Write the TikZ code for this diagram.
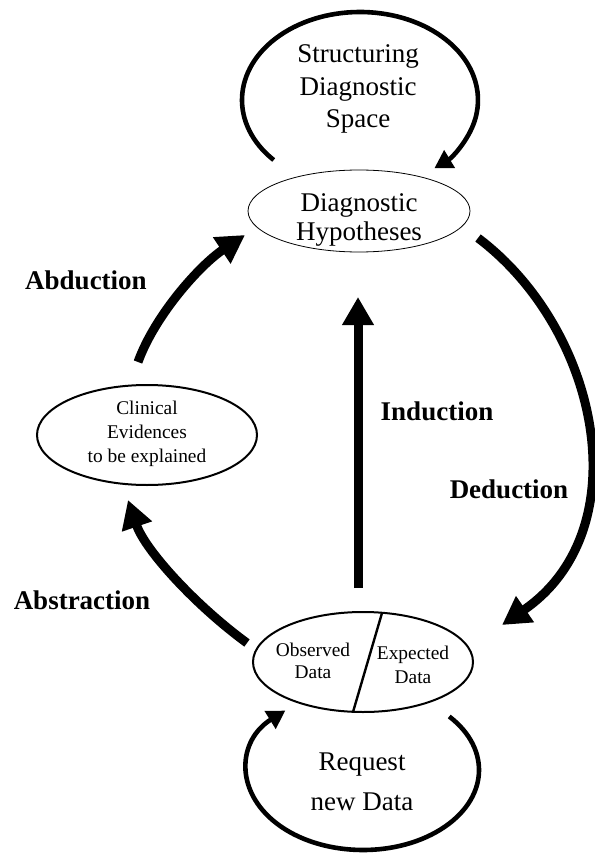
\documentclass[tikz,border=0pt]{standalone}
\usepackage{fontspec}
\setmainfont{Liberation Serif}
\usetikzlibrary{shapes.geometric,arrows.meta}
\begin{document}
\begin{tikzpicture}[x=0.5pt,y=0.5pt,
  bigtxt/.style={align=center, inner sep=0pt},
  lbl/.style={font=\fontsize{13.5}{16}\selectfont\bfseries, inner sep=0pt},
  smalltxt/.style={align=center, inner sep=0pt},
  ell/.style={ellipse, draw, line width=1pt, inner sep=0pt, minimum width=110pt, minimum height=50pt},
  bigarrow/.style={line width=4.5pt, -{Triangle[length=14pt,width=15pt]}},
  looparrow/.style={line width=2.3pt, -{Triangle[length=9pt,width=10pt]}}]
\useasboundingbox (0,0) rectangle (594,-855);

% nodes
\node[ellipse, draw, line width=0.4pt, inner sep=0pt, minimum width=111pt, minimum height=41pt] (hyp) at (359,-211) {};
\node[bigtxt, font=\fontsize{13.5}{14.5}\selectfont] (hyptxt) at (359,-220) {Diagnostic\\Hypotheses};

\node[ell] (clin) at (147,-435) {};
\node[smalltxt, font=\fontsize{9.7}{12}\selectfont] (clintxt) at (147,-434) {Clinical\\Evidences\\to be explained};

\node[ell] (data) at (363,-662) {};
\coordinate (divtop) at (382,-613);
\coordinate (divbot) at (353,-712);
\draw[line width=1.2pt] (divtop) -- (divbot);
\node[smalltxt, font=\fontsize{9.7}{11}\selectfont] (obs) at (313,-661) {Observed\\Data};
\node[smalltxt, font=\fontsize{9.7}{12}\selectfont] (exp) at (413,-665) {Expected\\Data};

\node[bigtxt, font=\fontsize{13.5}{16.25}\selectfont] (struct) at (358,-89) {Structuring\\Diagnostic\\Space};
\node[bigtxt, font=\fontsize{13.5}{20}\selectfont] (req) at (362,-782) {Request\\new Data};

% labels
\node[lbl] (abd) at (86,-280) {Abduction};
\node[lbl] (ind) at (437,-411) {Induction};
\node[lbl] (ded) at (509,-489) {Deduction};
\node[lbl] (abs) at (82,-600) {Abstraction};

% loops
\coordinate (c1) at (360,-100);
\draw[looparrow] ([shift={(-137:59pt and 44pt)}]c1) arc[start angle=-137, end angle=-411, x radius=59pt, y radius=44pt];
\coordinate (c2) at (363,-770);
\draw[looparrow] ([shift={(42:58pt and 40pt)}]c2) arc[start angle=42, end angle=-228, x radius=58pt, y radius=40pt];

% main arrows
\coordinate (abdS) at (138,-362);
\coordinate (abdE) at (245,-235);
\draw[bigarrow] (abdS) .. controls (155,-315) and (200,-265) .. (abdE);

\coordinate (dedS) at (478,-238);
\coordinate (dedE) at (502,-625);
\draw[bigarrow] (dedS) .. controls (600,-330) and (640,-530) .. (dedE);

\coordinate (absS) at (247,-643);
\coordinate (absE) at (128,-500);
\draw[bigarrow] (absS) .. controls (195,-605) and (145,-550) .. (absE);

\coordinate (indS) at (358,-588);
\coordinate (indE) at (358,-297);
\draw[bigarrow] (indS) -- (indE);
\end{tikzpicture}
\end{document}
